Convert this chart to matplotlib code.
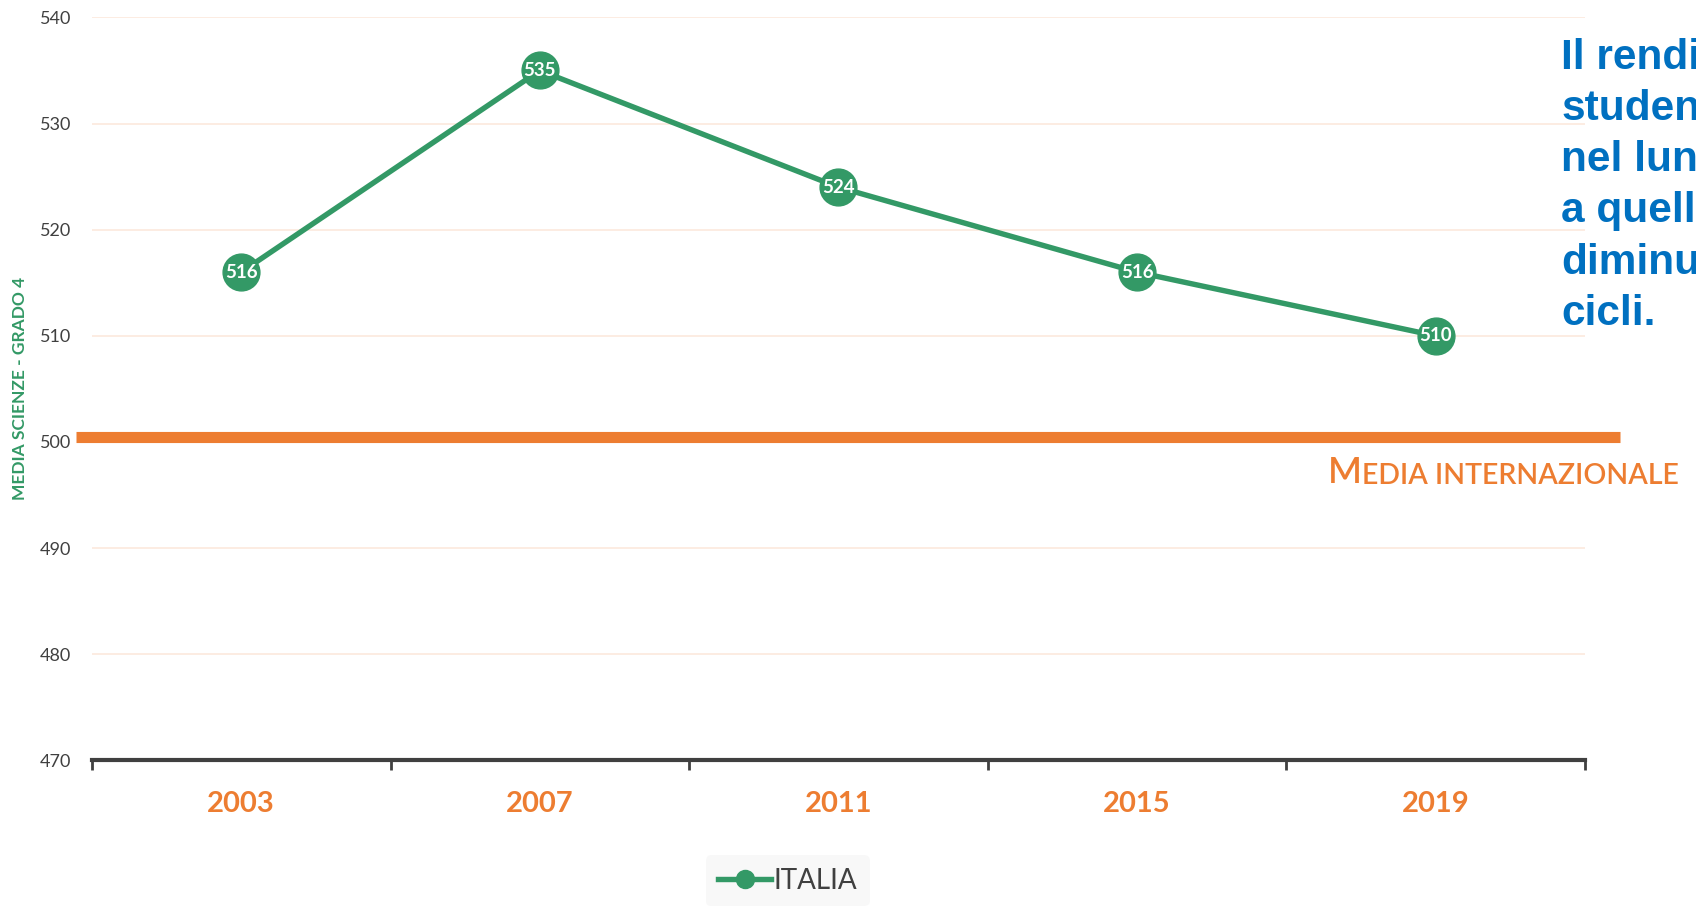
import matplotlib
matplotlib.use("Agg")
import matplotlib.pyplot as plt
from matplotlib.lines import Line2D

plt.rcParams['font.family'] = ['Lato', 'DejaVu Sans']

# Data
years = ["2003", "2007", "2011", "2015", "2019"]
italia = [516, 535, 524, 516, 510]
media_internazionale = 500.5
y_ticks = [470, 480, 490, 500, 510, 520, 530, 540]
# side note as visible in the reference (cut by the slide edge)
note_lines = ["Il rendi", "studen", "nel lun", "a quell", "diminu", "cicli."]

green = "#339966"
orange = "#ED7D31"
blue = "#0070C0"
gray = "#404040"

fig = plt.figure(figsize=(16.96, 9.15), dpi=100)
ax = fig.add_axes([0.0542, 0.169, 0.8803, 0.812])

x = list(range(len(years)))
ax.plot(x, italia, color=green, lw=3.9, marker="o", markersize=26.5,
        markerfacecolor=green, markeredgecolor=green, zorder=4)
for xi, v in zip(x, italia):
    ax.text(xi, v, str(v), color="white", fontsize=13.5, fontweight="bold",
            ha="center", va="center", zorder=5)

# international average line (extends past plot area)
ax.plot([-0.011, 1.0236], [media_internazionale] * 2, color=orange, lw=8,
        transform=ax.get_yaxis_transform(), clip_on=False, zorder=3,
        solid_capstyle="butt")

ax.set_xlim(-0.5, len(years) - 0.5)
ax.set_ylim(470, 540)
ax.set_yticks(y_ticks)
ax.set_yticklabels([str(t) for t in y_ticks])
ax.grid(axis="y", color="#FCE9DD", lw=1.2, zorder=0)

# category boundaries as ticks, labels on minor ticks
ax.set_xticks([i - 0.5 for i in range(len(years) + 1)])
ax.set_xticklabels([])
ax.set_xticks(x, minor=True)
ax.set_xticklabels(years, minor=True)
ax.tick_params(axis="x", which="major", length=7, width=2, color=gray, direction="out")
ax.tick_params(axis="x", which="minor", length=0, pad=22, labelsize=21,
               labelcolor=orange)
for lab in ax.get_xticklabels(minor=True):
    lab.set_fontweight("bold")
ax.tick_params(axis="y", length=0, pad=15, labelsize=13, labelcolor=gray)

for s in ["top", "right", "left"]:
    ax.spines[s].set_visible(False)
ax.spines["bottom"].set_color(gray)
ax.spines["bottom"].set_linewidth(3)
ax.spines["bottom"].set_zorder(6)

fig.text(0.0115, 0.576, "MEDIA SCIENZE - GRADO 4", rotation=90, color=green,
         fontsize=12.5, fontweight="bold", ha="center", va="center")

# small caps label
t_m = fig.text(0.783, 0.466, "M", color=orange, fontsize=26,
               fontweight="semibold", ha="left", va="bottom")
ax.annotate("EDIA INTERNAZIONALE", xy=(1, 0), xycoords=t_m, color=orange,
            fontsize=20.5, fontweight="semibold", ha="left", va="bottom",
            annotation_clip=False)

# side note, cut by the figure edge
fig.text(0.9205, 0.959, "\n".join(note_lines), color=blue, fontsize=30.5,
         fontweight="bold", family=["Liberation Sans", "DejaVu Sans"],
         ha="left", va="top", linespacing=1.365)

handle = Line2D([], [], color=green, lw=3.9, marker="o", markersize=13)
leg = fig.legend([handle], ["ITALIA"], loc="center",
                 bbox_to_anchor=(0.4646, 0.0372), frameon=True, fontsize=20,
                 handlelength=1.9, handletextpad=0.1, borderpad=0.45)
leg.get_frame().set_facecolor("#F7F7F7")
leg.get_frame().set_edgecolor("none")
for t in leg.get_texts():
    t.set_color(gray)

fig.savefig("out.png", dpi=100)
